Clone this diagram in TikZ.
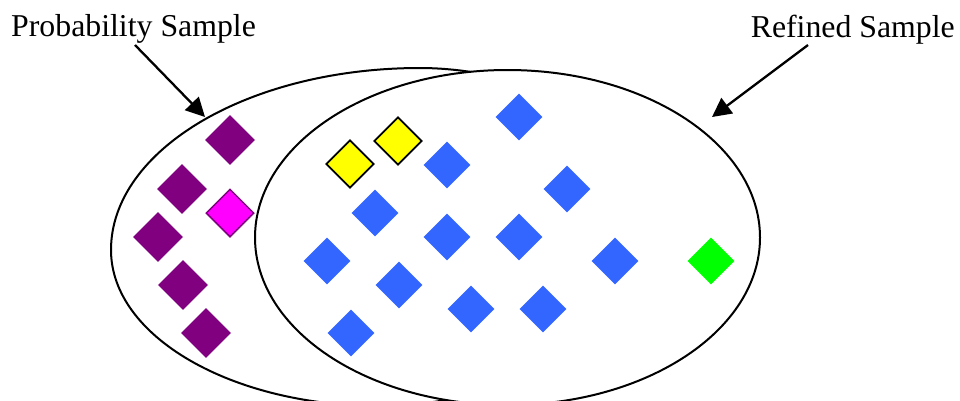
\documentclass[tikz,border=0pt]{standalone}
\usepackage{fontspec}
\setmainfont{Liberation Serif}
\usetikzlibrary{shapes.geometric,arrows.meta}
\definecolor{dpurple}{HTML}{800080}
\definecolor{dmagenta}{HTML}{FF00FF}
\definecolor{dyellow}{HTML}{FFFF00}
\definecolor{dblue}{HTML}{3366FF}
\definecolor{dgreen}{HTML}{00FF00}
\tikzset{
  gem/.style={diamond, inner sep=0pt, minimum size=47pt, draw=none},
  purplegem/.style={gem, fill=dpurple, minimum size=50pt},
  magentagem/.style={gem, fill=dmagenta, draw=dpurple, line width=1.5pt, minimum size=48pt},
  yellowgem/.style={gem, fill=dyellow, draw=black, line width=1.8pt, minimum size=48pt},
  bluegem/.style={gem, fill=dblue},
  greengem/.style={gem, fill=dgreen},
  setline/.style={draw=black, line width=2pt, fill=white},
  lbl/.style={font=\fontsize{31.8}{36}\selectfont, inner sep=0pt},
  pointer/.style={line width=2.3pt, -{Triangle[length=19pt,width=19pt]}}
}
\begin{document}
\begin{tikzpicture}[x=1pt,y=-1pt]
\useasboundingbox (0,0) rectangle (960,400);
\clip (0,0) rectangle (960,400);
\fill[white] (0,0) rectangle (960,400);
% probability sample (outer set; its right part lies under the refined sample)
\path[setline] (420,68) .. controls (249.3,68) and (111,149.5) .. (111,250)
  .. controls (111,336.2) and (231.4,406) .. (380,406)
  .. controls (480,406) and (600,360) .. (600,300)
  -- (600,150) .. controls (600,100) and (500,68) .. cycle;
% refined sample (inner set)
\path[setline] (507.5,237.5) ellipse [x radius=252.5, y radius=167.5];
% labels
\node[lbl, anchor=base west] (ps) at (11,36) {Probability Sample};
\node[lbl, anchor=base east] (rs) at (955,37) {Refined Sample};
\coordinate (psfrom) at (135,45);
\coordinate (psto) at (205,117);
\coordinate (rsfrom) at (808,45);
\coordinate (rsto) at (712,117);
\draw[pointer] (psfrom) -- (psto);
\draw[pointer] (rsfrom) -- (rsto);
% purple
\node[purplegem] (p1) at (230,140) {};
\node[purplegem] (p2) at (182,189) {};
\node[purplegem] (p3) at (158,237) {};
\node[purplegem] (p4) at (183,285) {};
\node[purplegem] (p5) at (206,333) {};
% magenta
\node[magentagem] (m1) at (230,213) {};
% yellow
\node[yellowgem] (y1) at (350,164) {};
\node[yellowgem] (y2) at (398,141) {};
% blue
\node[bluegem] (b1) at (519,117) {};
\node[bluegem] (b2) at (447,165) {};
\node[bluegem] (b3) at (567,189) {};
\node[bluegem] (b4) at (375,213) {};
\node[bluegem] (b5) at (447,237) {};
\node[bluegem] (b6) at (519,237) {};
\node[bluegem] (b7) at (327,261) {};
\node[bluegem] (b8) at (615,261) {};
\node[bluegem] (b9) at (399,285) {};
\node[bluegem] (b10) at (471,309) {};
\node[bluegem] (b11) at (543,309) {};
\node[bluegem] (b12) at (351,333) {};
% green
\node[greengem] (g1) at (711,261) {};
\end{tikzpicture}
\end{document}
